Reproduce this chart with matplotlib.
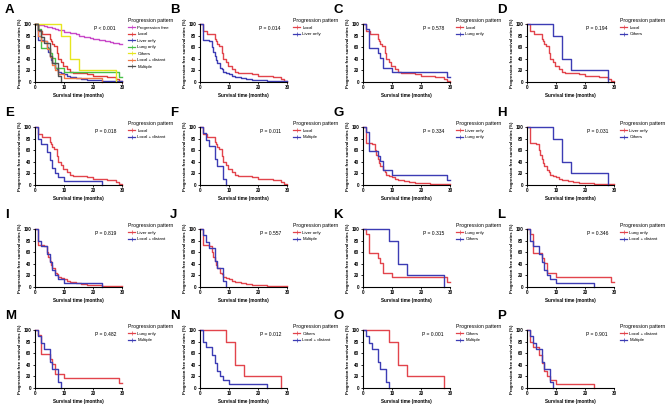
import matplotlib
matplotlib.use("Agg")
import matplotlib.pyplot as plt
from matplotlib.lines import Line2D

plt.rcParams['font.family'] = ['Liberation Sans', 'DejaVu Sans']

# ---------------- data (survival %, step curves) ----------------
groups = ["Progression free", "Local", "Liver only", "Lung only", "Others",
          "Local + distant", "Multiple"]

pf_t = [0, 1, 2, 3, 4, 5, 6, 7, 8, 9, 10, 11, 12, 13, 14, 15, 16, 17, 18, 19, 20,
        21, 22, 23, 24, 25, 26, 27, 28, 29, 30]
pf_s = [100, 99, 98, 97, 95, 94, 93, 92, 90, 89, 87, 86, 85, 84, 82, 80, 79, 78, 77,
        76, 75, 74, 73, 72, 71, 70, 69, 68, 67, 66, 66]

local_t = [0, 1, 2.5, 5, 5.5, 6, 6.5, 7.5, 8, 9, 9.5, 10, 11, 12, 13, 18, 20, 22, 25,
           28, 29, 30]
local_s = [100, 88, 82, 75, 70, 65, 62, 50, 40, 35, 28, 27, 22, 18, 15, 13, 11, 10, 8,
           5, 2, 0]

liver_t = [0, 1, 3, 4, 4.5, 5, 5.5, 6, 7, 7.5, 8, 9, 10, 11, 12, 14, 16, 18, 20, 23, 30]
liver_s = [100, 73, 70, 60, 52, 45, 38, 32, 25, 22, 18, 15, 13, 11, 9, 7, 5, 4, 3, 1, 1]

lung_t = [0, 1, 2, 5, 6, 7, 10, 29, 30]
lung_s = [100, 92, 58, 50, 42, 25, 17, 8, 8]

others_t = [0, 9, 12, 15, 28]
others_s = [100, 80, 40, 20, 0]

locdist_t = [0, 1, 2, 4, 5, 6, 7, 8, 10, 23]
locdist_s = [100, 79, 71, 57, 43, 29, 21, 14, 7, 0]

multiple_t = [0, 1, 2, 3, 5, 6, 8, 9]
multiple_s = [100, 89, 78, 67, 44, 33, 11, 0]

curves = {
    "Progression free": (pf_t, pf_s),
    "Local": (local_t, local_s),
    "Liver only": (liver_t, liver_s),
    "Lung only": (lung_t, lung_s),
    "Others": (others_t, others_s),
    "Local + distant": (locdist_t, locdist_s),
    "Multiple": (multiple_t, multiple_s),
}

panel_letters = list("ABCDEFGHIJKLMNOP")
panel_pairs = [
    groups,
    ["Local", "Liver only"], ["Local", "Lung only"], ["Local", "Others"],
    ["Local", "Local + distant"], ["Local", "Multiple"],
    ["Liver only", "Lung only"], ["Liver only", "Others"],
    ["Liver only", "Local + distant"], ["Liver only", "Multiple"],
    ["Lung only", "Others"], ["Lung only", "Local + distant"],
    ["Lung only", "Multiple"], ["Others", "Local + distant"],
    ["Others", "Multiple"], ["Local + distant", "Multiple"],
]
p_values = ["P < 0.001", "P = 0.014", "P = 0.578", "P = 0.194",
            "P = 0.018", "P = 0.011", "P = 0.334", "P = 0.031",
            "P = 0.819", "P = 0.557", "P = 0.315", "P = 0.346",
            "P = 0.482", "P = 0.012", "P = 0.001", "P = 0.901"]

x_ticks = [0, 10, 20, 30]
y_ticks = [0, 20, 40, 60, 80, 100]

# ---------------- styling ----------------
all_colors = {
    "Progression free": "#C848C8", "Local": "#E03C3C", "Liver only": "#3C3CB4",
    "Lung only": "#48C048", "Others": "#E6E620", "Local + distant": "#F07848",
    "Multiple": "#505050",
}
pair_colors = ["#E2444C", "#3C3CB4"]

W, H = 669, 404
fig = plt.figure(figsize=(W / 100, H / 100), dpi=100)

col_x0 = [35, 200, 363, 527]
row_top = [24, 127, 229, 330]
ax_w, ax_h = 87, 58

for i, letter in enumerate(panel_letters):
    r, c = divmod(i, 4)
    left = col_x0[c] / W
    bottom = 1 - (row_top[r] + ax_h) / H
    ax = fig.add_axes([left, bottom, ax_w / W, ax_h / H])
    names = panel_pairs[i]
    handles = []
    for j, name in enumerate(names):
        col = all_colors[name] if i == 0 else pair_colors[j]
        t, s = curves[name]
        ax.step(t, s, where="post", color=col, lw=1.0, clip_on=False)
        handles.append(Line2D([0], [0], color=col, lw=0.9, marker="+",
                              markersize=2.2, markeredgewidth=0.5))
    ax.set_xlim(0, 30)
    ax.set_ylim(0, 100)
    ax.set_xticks(x_ticks)
    ax.set_yticks(y_ticks)
    for sp in ["top", "right"]:
        ax.spines[sp].set_visible(False)
    for sp in ["left", "bottom"]:
        ax.spines[sp].set_linewidth(0.8)
    ax.tick_params(direction="out", length=1.5, width=0.6, labelsize=3.3, pad=1)
    for lab in ax.get_xticklabels() + ax.get_yticklabels():
        lab.set_fontweight("bold")
    ax.set_xlabel("Survival time (months)", fontsize=3.3, fontweight="bold",
                  labelpad=1.5)
    ax.set_ylabel("Progression free survival rates (%)", fontsize=3.1,
                  fontweight="bold", labelpad=1.5)
    ax.text(0.93, 0.93, p_values[i], transform=ax.transAxes, ha="right",
            va="center", fontsize=3.6)
    ax.text(-30 / ax_w, 1 + 20 / ax_h, letter, transform=ax.transAxes,
            ha="left", va="top", fontsize=9.5, fontweight="bold")
    leg = ax.legend(handles, names, title="Progression pattern",
                    loc="upper left", bbox_to_anchor=(1 + 6 / ax_w, 1 + 6 / ax_h),
                    frameon=False, fontsize=3.2, title_fontsize=3.7,
                    handlelength=1.6, handletextpad=0.5, labelspacing=0.55,
                    borderpad=0, borderaxespad=0, alignment="left")

fig.savefig("out.png", dpi=100)
